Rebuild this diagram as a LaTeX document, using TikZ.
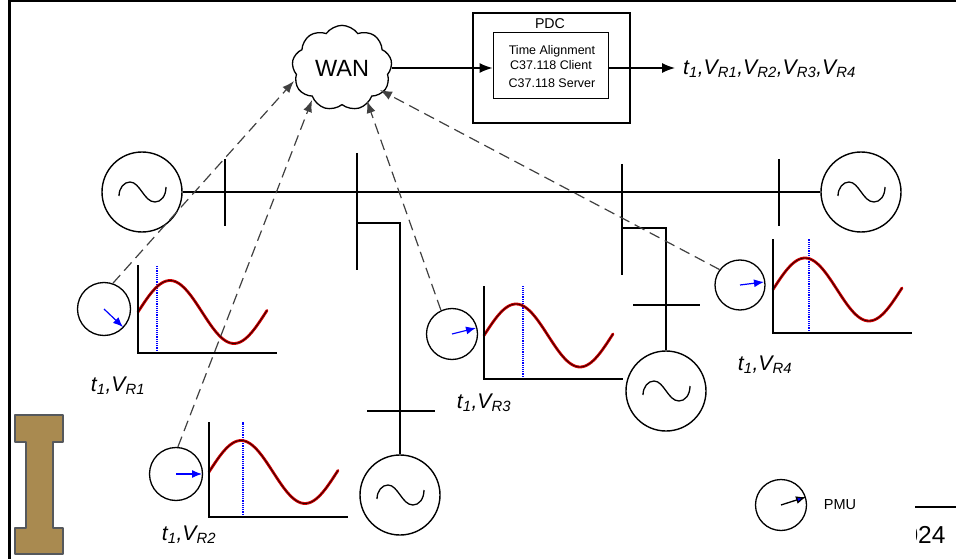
\documentclass[tikz,border=0pt]{standalone}
\usepackage{fontspec}
\setmainfont{Liberation Sans}
\usetikzlibrary{arrows.meta,shapes.symbols}
\definecolor{iorange}{HTML}{A98A50}
\definecolor{igray}{HTML}{55585C}
\definecolor{darkred}{HTML}{D00000}
\newcommand{\tv}[1]{{\itshape t\textsubscript{1},V\textsubscript{R#1}}}
\tikzset{
  pmucircle/.style={draw, circle, line width=1.3pt, minimum size=#1, inner sep=0pt},
  gencircle/.style={draw, circle, line width=1.4pt, minimum size=80pt, inner sep=0pt},
  busbar/.style={line width=2.9pt},
  link/.style={line width=1.2pt, dash pattern=on 11pt off 6pt, draw=black!75, -{Latex[length=12pt,width=9pt]}},
  wire/.style={line width=1.3pt},
  pmuarrow/.style={blue, line width=1.2pt, -{Latex[length=10pt,width=8pt]}},
  wavelabel/.style={font=\fontsize{21.2}{23}\selectfont}
}
\begin{document}
\begin{tikzpicture}[x=1pt, y=-1pt]
    \useasboundingbox (0, 0) rectangle (956, 559);
    % Frame
    \draw[line width=3pt] (9, 0) -- (9, 559);
    \draw[line width=1.5pt] (9, 1) -- (956, 1);
    \draw[line width=1.1pt] (915, 507) -- (956, 507);
    \begin{scope}
        \clip (916, 515) rectangle (956, 559);
        \node[anchor=east, font=\fontsize{24.5}{26}\selectfont] (year) at (949, 535) {2024};
    \end{scope}

    % Logo
    \fill[iorange, draw=igray, line width=2.4pt, line join=round] (15, 415) -- (63, 415) -- (63, 442) -- (53, 442)
        -- (53, 528) -- (63, 528) -- (63, 554) -- (15, 554) -- (15, 528) -- (26, 528) -- (26, 442) -- (15, 442) -- cycle;

    % WAN and PDC
    \node[draw, cloud, cloud puffs=9, cloud puff arc=110, line width=1.3pt, minimum width=100pt, minimum height=64pt,
        inner sep=0pt, font=\fontsize{23.5}{25}\selectfont] (wan) at (342, 68) {WAN};
    \draw[line width=2.8pt] (473, 13) rectangle (630, 123);
    \node[font=\fontsize{14.2}{16}\selectfont] (pdclabel) at (550, 24) {PDC};
    \node[draw, line width=1pt, minimum width=115pt, minimum height=66pt, inner sep=0pt] (pdc) at (550.5, 66) {};
    \node[font=\fontsize{12.5}{14}\selectfont] (align) at (552, 51) {Time Alignment};
    \node[font=\fontsize{12.5}{14}\selectfont] (client) at (551, 65) {C37.118 Client};
    \node[font=\fontsize{12.5}{14}\selectfont] (server) at (552, 83) {C37.118 Server};
    \coordinate (out) at (675, 68);
    \node[anchor=west, wavelabel, inner sep=0pt] (outlabel) at (683, 69) {\itshape t\textsubscript{1},V\textsubscript{R1},V\textsubscript{R2},V\textsubscript{R3},V\textsubscript{R4}};
    \draw[wire, -{Latex[length=13pt,width=10pt]}] (wan.east) -- (pdc.west |- wan.east);
    \draw[wire, -{Latex[length=13pt,width=10pt]}] (pdc.east |- out) -- (out);

    % Generators
    \node[gencircle] (genL) at (142, 192) {};
    \node[gencircle] (genR) at (861, 192) {};
    \node[gencircle] (genC) at (400, 495) {};
    \node[gencircle] (genD) at (666, 391) {};
    \foreach \g in {genL, genR, genC, genD} {
        \draw[line width=1.3pt, shift={(\g.center)}] (-23, 4) .. controls (-23, -4) and (-18, -10) .. (-12, -10)
            .. controls (-2, -10) and (2, 10) .. (13, 10) .. controls (19, 10) and (24, 4) .. (24, -5);
    }

    % Buses
    \draw[wire] (genL) -- (genR);
    \draw[busbar] (225, 159) -- (225, 226);
    \draw[busbar] (357, 153) -- (357, 270);
    \draw[busbar] (622, 164) -- (622, 275);
    \draw[busbar] (779, 159) -- (779, 226);
    \coordinate (tapC) at (357, 223);
    \coordinate (tapD) at (622, 228);
    \draw[wire] (tapC) -| (genC);
    \draw[wire] (tapD) -| (genD);
    \draw[busbar] (367, 411) -- (435, 411);
    \draw[busbar] (633, 305) -- (700, 305);

    % Plots
    \foreach \ox/\oy/\vx/\tp/\wy in {138/353/19/88/41, 209/517/34/95/45, 484/379/39/93/43.5, 773/333/36/94/43.5} {
        \begin{scope}[shift={(\ox, \oy)}]
            \draw[blue, densely dotted, line width=1.2pt] (\vx, 0) -- (\vx, -\tp);
            \draw[line width=2.8pt, darkred, line cap=round] plot[domain=0:129, samples=60, smooth] (\x, {-\wy - 31.5*sin(\x*2.8125)});
            \draw[line width=0.8pt, black!80!darkred] plot[domain=0:129, samples=60, smooth] (\x, {-\wy - 31.5*sin(\x*2.8125)});
            \draw[line width=1.4pt] (0, -\tp) -- (0, 0) -- (139, 0);
        \end{scope}
    }

    % PMUs
    \node[pmucircle=53pt] (pmuA) at (104, 309) {};
    \node[pmucircle=53pt] (pmuB) at (176, 474) {};
    \node[pmucircle=51pt] (pmuC) at (452, 334) {};
    \node[pmucircle=50pt] (pmuD) at (740, 285) {};
    \node[pmucircle=51pt] (pmuE) at (781, 505) {};
    \coordinate (headA) at (123, 327);
    \coordinate (headB) at (202, 474);
    \coordinate (headC) at (476, 328);
    \coordinate (headD) at (764, 282);
    \coordinate (headE) at (806, 497);
    \draw[pmuarrow] (pmuA.center) -- (headA);
    \draw[pmuarrow] (pmuB.center) -- (headB);
    \draw[pmuarrow] (pmuC.center) -- (headC);
    \draw[pmuarrow] (pmuD.center) -- (headD);
    \draw[line width=1.3pt, -{Latex[length=10pt,width=8pt,fill=blue]}] (pmuE.center) -- (headE);
    \node[font=\fontsize{14.5}{16}\selectfont] (pmulabel) at (840, 505) {PMU};

    % Dashed links
    \coordinate (wanA) at (294, 81);
    \coordinate (wanB) at (312, 100);
    \coordinate (wanC) at (367, 101);
    \coordinate (wanD) at (380, 90);
    \draw[link] (pmuA.71) -- (wanA);
    \draw[link] (pmuB.86) -- (wanB);
    \draw[link] (pmuC.115) -- (wanC);
    \draw[link] (pmuD.143) -- (wanD);

    % Readings
    \node[wavelabel] (readA) at (118, 386) {\tv{1}};
    \node[wavelabel] (readB) at (189, 535) {\tv{2}};
    \node[wavelabel] (readC) at (484, 403) {\tv{3}};
    \node[wavelabel] (readD) at (765, 365) {\tv{4}};
\end{tikzpicture}
\end{document}
